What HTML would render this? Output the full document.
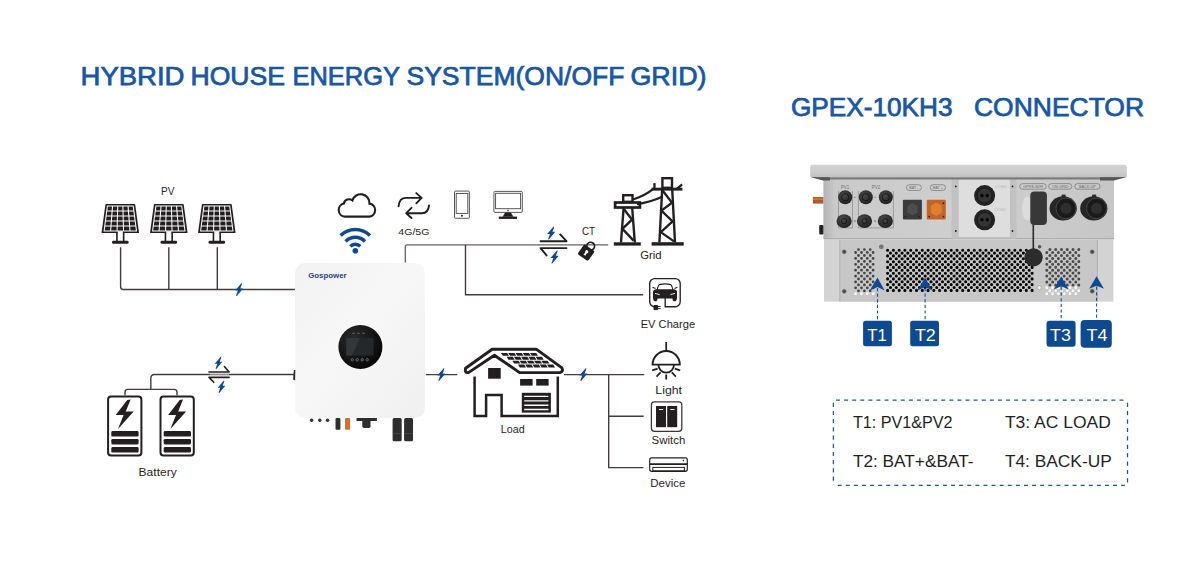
<!DOCTYPE html>
<html><head><meta charset="utf-8">
<style>
html,body{margin:0;padding:0;background:#fff;width:1200px;height:572px;overflow:hidden}
svg{display:block;font-family:"Liberation Sans",sans-serif}
</style></head>
<body>
<svg width="1200" height="572" viewBox="0 0 1200 572">
<!-- titles -->
<g font-size="25.3" fill="#1857a4" stroke="#1857a4" stroke-width="0.75"><text x="80.5" y="84.8" textLength="104.0" lengthAdjust="spacingAndGlyphs">HYBRID</text><text x="190.5" y="84.8" textLength="94.5" lengthAdjust="spacingAndGlyphs">HOUSE</text><text x="292.5" y="84.8" textLength="107.5" lengthAdjust="spacingAndGlyphs">ENERGY</text><text x="406.5" y="84.8" textLength="218.0" lengthAdjust="spacingAndGlyphs">SYSTEM(ON/OFF</text><text x="630.5" y="84.8" textLength="76.0" lengthAdjust="spacingAndGlyphs">GRID)</text></g>
<text x="791" y="116" font-size="25" fill="#1857a4" stroke="#1857a4" stroke-width="0.75" textLength="161.5" lengthAdjust="spacingAndGlyphs">GPEX-10KH3</text>
<text x="974" y="116" font-size="25" fill="#1857a4" stroke="#1857a4" stroke-width="0.75" textLength="170" lengthAdjust="spacingAndGlyphs">CONNECTOR</text>

<!-- wires -->
<g fill="none" stroke="#443c3a" stroke-width="1.4">
  <path d="M120.6 247.3 V286.8 Q120.6 289.5 123.3 289.5 H296"/>
  <path d="M168.8 247.3 V289.5 M217.3 247.3 V289.5"/>
  <path d="M296 374.5 H154.6 Q150.8 374.5 150.8 378.3 V389.4 M125 395.3 V392.2 Q125 389.4 127.8 389.4 H174.2 Q177 389.4 177 392.2 V395.3"/>
  <path d="M405.3 262.5 V246.9 Q405.3 244.9 407.3 244.9 H608.2" stroke="#6a6361" stroke-width="1.35"/>
  <path d="M465.5 244.9 V294.8 H643.2"/>
  <path d="M425.8 374.6 H457.3 M564 374.6 H644.3 M608.7 374.6 V467.6 H643.4 M608.7 416.2 H643.6"/>
</g>



<!-- inverter -->
<defs>
  <linearGradient id="invg" x1="0" y1="0" x2="1" y2="1">
    <stop offset="0" stop-color="#f3f2f2"/>
    <stop offset="0.45" stop-color="#f8f7f7"/>
    <stop offset="1" stop-color="#f1f0f0"/>
  </linearGradient>
  <radialGradient id="dispg" cx="0.35" cy="0.3" r="0.8">
    <stop offset="0" stop-color="#2a2a2a"/>
    <stop offset="1" stop-color="#050505"/>
  </radialGradient>
</defs>
<rect x="295" y="263" width="130" height="155" rx="10" fill="url(#invg)"/>
<path d="M293.9,369.9 H295.3 L295.1,380.6 L293.1,379.6 Z" fill="#2a2626"/>
<text x="308.2" y="278.2" font-size="8" font-weight="bold" fill="#2b428c" textLength="38.4" lengthAdjust="spacingAndGlyphs">Gospower</text>
<circle cx="360.4" cy="347" r="22" fill="url(#dispg)"/>
<rect x="346.3" y="338.1" width="27.2" height="17.3" fill="#25282b"/>
<path d="M346.3,338.1 H360 L352,355.4 H346.3 Z" fill="#33363a"/>
<g fill="none" stroke="#9a9a9a" stroke-width="0.6">
  <circle cx="352.3" cy="359.8" r="1.2"/><circle cx="357.2" cy="359.8" r="1.2"/>
  <circle cx="362.2" cy="359.8" r="1.2"/><circle cx="367.2" cy="359.8" r="1.2"/>
</g>
<g fill="#888"><rect x="352.5" y="332.8" width="2" height="0.8"/><rect x="357.5" y="332.8" width="2" height="0.8"/><rect x="362.5" y="332.8" width="2" height="0.8"/></g>
<g fill="#2e2e2e">
  <circle cx="311.6" cy="420.2" r="1.7"/><circle cx="319.8" cy="420.2" r="1.7"/><circle cx="327.6" cy="420.2" r="1.7"/>
  <rect x="335.5" y="418" width="4.9" height="11.7" rx="1"/>
  <rect x="356.5" y="418" width="20.4" height="3"/>
  <rect x="362.3" y="418" width="8.2" height="10" rx="1.8"/>
  <rect x="392.6" y="418" width="9.1" height="23.2" rx="1.5"/>
  <rect x="404.1" y="418" width="8.9" height="23.2" rx="1.5"/>
</g>
<rect x="345" y="418" width="5.1" height="11.7" rx="1" fill="#d4702f"/>
<path d="M392.6,433.5 H401.7 M404.1,433.5 H413" stroke="#555" stroke-width="0.6"/>

<!-- PV panels -->
<g transform="translate(120.3 204.0)">
<path d="M-14.9,0.4 Q-14.9,0 -14.4,0 H14.4 Q14.9,0 14.9,0.4 L18.7,28.4 Q18.7,28.9 18.2,28.9 H-18.2 Q-18.7,28.9 -18.7,28.4 Z" fill="#231f20"/>
<path d="M-12.9,1.9 H12.9 L16.2,27.0 H-16.2 Z M-13.56,6.92 H13.56 M-14.22,11.94 H14.22 M-14.88,16.96 H14.88 M-15.54,21.98 H15.54 M-7.74,1.9 L-9.72,27.0 M-2.58,1.9 L-3.24,27.0 M2.58,1.9 L3.24,27.0 M7.74,1.9 L9.72,27.0" fill="none" stroke="#fff" stroke-width="1.05"/>
<rect x="-2.6" y="27.2" width="5.2" height="10" fill="#fff"/><path d="M-3.35,28.2 V37.4 M3.35,28.2 V37.4" stroke="#231f20" stroke-width="1.6"/>
<rect x="-8.3" y="36.699999999999996" width="16.6" height="3.1" rx="1.4" fill="#231f20"/>
</g>
<g transform="translate(168.8 204.0)">
<path d="M-14.9,0.4 Q-14.9,0 -14.4,0 H14.4 Q14.9,0 14.9,0.4 L18.7,28.4 Q18.7,28.9 18.2,28.9 H-18.2 Q-18.7,28.9 -18.7,28.4 Z" fill="#231f20"/>
<path d="M-12.9,1.9 H12.9 L16.2,27.0 H-16.2 Z M-13.56,6.92 H13.56 M-14.22,11.94 H14.22 M-14.88,16.96 H14.88 M-15.54,21.98 H15.54 M-7.74,1.9 L-9.72,27.0 M-2.58,1.9 L-3.24,27.0 M2.58,1.9 L3.24,27.0 M7.74,1.9 L9.72,27.0" fill="none" stroke="#fff" stroke-width="1.05"/>
<rect x="-2.6" y="27.2" width="5.2" height="10" fill="#fff"/><path d="M-3.35,28.2 V37.4 M3.35,28.2 V37.4" stroke="#231f20" stroke-width="1.6"/>
<rect x="-8.3" y="36.699999999999996" width="16.6" height="3.1" rx="1.4" fill="#231f20"/>
</g>
<g transform="translate(216.8 204.0)">
<path d="M-14.9,0.4 Q-14.9,0 -14.4,0 H14.4 Q14.9,0 14.9,0.4 L18.7,28.4 Q18.7,28.9 18.2,28.9 H-18.2 Q-18.7,28.9 -18.7,28.4 Z" fill="#231f20"/>
<path d="M-12.9,1.9 H12.9 L16.2,27.0 H-16.2 Z M-13.56,6.92 H13.56 M-14.22,11.94 H14.22 M-14.88,16.96 H14.88 M-15.54,21.98 H15.54 M-7.74,1.9 L-9.72,27.0 M-2.58,1.9 L-3.24,27.0 M2.58,1.9 L3.24,27.0 M7.74,1.9 L9.72,27.0" fill="none" stroke="#fff" stroke-width="1.05"/>
<rect x="-2.6" y="27.2" width="5.2" height="10" fill="#fff"/><path d="M-3.35,28.2 V37.4 M3.35,28.2 V37.4" stroke="#231f20" stroke-width="1.6"/>
<rect x="-8.3" y="36.699999999999996" width="16.6" height="3.1" rx="1.4" fill="#231f20"/>
</g>
<!-- batteries -->
<g id="bat1">
  <rect x="108.1" y="396.4" width="33.3" height="59.1" rx="3" fill="#fff" stroke="#231f20" stroke-width="2"/>
  <path d="M127.3,400 L130.6,399.5 L125.8,411.5 L133.7,411.5 L118,429 L123.6,415 L115.7,415 Z" fill="#231f20"/>
  <rect x="111.3" y="431" width="27.3" height="5.6" rx="1.4" fill="#231f20"/>
  <rect x="111.3" y="438.9" width="27.3" height="5.6" rx="1.4" fill="#231f20"/>
  <rect x="111.3" y="447" width="27.3" height="5.6" rx="1.4" fill="#231f20"/>
</g>
<use href="#bat1" x="52.4"/>
<!-- bolts on wires -->
<g fill="#0f4894">
  <path transform="translate(239.1 289.6)" d="M2.3,-6.4 L3.1,-6.1 L1.2,-1.2 L4,-1.2 L-2.3,6.4 L-3.1,6.1 L-1.2,0.9 L-4,0.9 Z"/>
  <path transform="translate(441.4 374.6)" d="M2.3,-6.4 L3.1,-6.1 L1.2,-1.2 L4,-1.2 L-2.3,6.4 L-3.1,6.1 L-1.2,0.9 L-4,0.9 Z"/>
  <path transform="translate(583.4 374.6)" d="M2.3,-6.4 L3.1,-6.1 L1.2,-1.2 L4,-1.2 L-2.3,6.4 L-3.1,6.1 L-1.2,0.9 L-4,0.9 Z"/>
  <path transform="translate(218.5 362.8) scale(0.95)" d="M2.3,-6.4 L3.1,-6.1 L1.2,-1.2 L4,-1.2 L-2.3,6.4 L-3.1,6.1 L-1.2,0.9 L-4,0.9 Z"/>
  <path transform="translate(221.5 386.8) scale(0.95)" d="M2.3,-6.4 L3.1,-6.1 L1.2,-1.2 L4,-1.2 L-2.3,6.4 L-3.1,6.1 L-1.2,0.9 L-4,0.9 Z"/>
  <path transform="translate(551.2 233) scale(1.02)" d="M2.3,-6.4 L3.1,-6.1 L1.2,-1.2 L4,-1.2 L-2.3,6.4 L-3.1,6.1 L-1.2,0.9 L-4,0.9 Z"/>
  <path transform="translate(554.6 257) scale(1.02)" d="M2.3,-6.4 L3.1,-6.1 L1.2,-1.2 L4,-1.2 L-2.3,6.4 L-3.1,6.1 L-1.2,0.9 L-4,0.9 Z"/>
</g>
<!-- bidirectional arrows -->
<rect x="210" y="373.3" width="18.6" height="2.7" fill="#dad7d6"/><path d="M210,374.6 H228.6" stroke="#8f8a89" stroke-width="1"/>
<g fill="none" stroke="#231f20" stroke-width="1.6" stroke-linecap="round" stroke-linejoin="round">
  <path d="M209,372 H229.1 L224.4,366.5 M229.1,377.4 H209 L213.8,382.3"/>
  <path d="M540.5,241.2 H566.5 L560.2,234.4 M566.5,248.1 H540.5 L546.6,255.4" stroke-width="1.9"/>
</g>


<!-- comm icons -->
<path d="M344.8,216.6 A6.6,6.6 0 0 1 343.8,203.6 A5.4,5.4 0 0 1 352.4,200.4 A8.7,8.7 0 0 1 369.4,203.6 A6.55,6.55 0 0 1 369.4,216.6 Z" fill="none" stroke="#231f20" stroke-width="2.1"/>
<g fill="none" stroke="#0f4894" stroke-width="3.5">
  <path d="M340.6,235.6 A21,21 0 0 1 370,235.6"/>
  <path d="M345.6,241.4 A13.6,13.6 0 0 1 365,241.4"/>
  <path d="M350.3,246.4 A7,7 0 0 1 360.3,246.4"/>
</g>
<circle cx="355.3" cy="250.8" r="2.8" fill="#0f4894"/>
<g fill="none" stroke="#231f20" stroke-width="1.9" stroke-linecap="round" stroke-linejoin="round">
  <path d="M398.6,206.2 C399,201 401.5,197.9 406,197.9 H421.6 M416.3,193.1 L421.6,197.9 L416.3,203.3"/>
  <path d="M429,205.4 C428.6,210.4 426.3,213.2 422,213.2 H406.2 M411.5,207.8 L406.2,213.2 L411.5,218"/>
</g>
<g fill="none" stroke="#4a4544" stroke-width="0.9">
  <rect x="454.5" y="191.1" width="14.9" height="27.2" rx="0.8"/>
  <rect x="456.2" y="193.5" width="11.6" height="19.9"/>
  <rect x="493.9" y="191.4" width="28.4" height="21" rx="1.2"/>
  <rect x="495.6" y="193.3" width="25" height="15.4"/>
</g>
<circle cx="461.9" cy="215.8" r="1" fill="#231f20"/>
<circle cx="508" cy="210.5" r="0.8" fill="#231f20"/>
<path d="M505.2,212.5 H510.8 L513.4,216.8 H502.6 Z" fill="#231f20"/>
<rect x="498.8" y="216.6" width="18.2" height="2.3" fill="#231f20"/>

<!-- lock -->
<g transform="translate(586.6 252) rotate(35) scale(1.14)">
  <circle cx="0" cy="-6.2" r="3.4" fill="none" stroke="#231f20" stroke-width="1.5"/>
  <rect x="-5.6" y="-4.6" width="11.2" height="10.6" rx="1.5" fill="#231f20"/>
  <circle cx="0" cy="-0.3" r="1.4" fill="#fff"/>
  <path d="M-0.6,0 L-1,3.4 H1 L0.6,0 Z" fill="#fff"/>
</g>

<!-- towers -->
<g fill="none" stroke="#231f20" stroke-width="2.4" stroke-linejoin="miter">
  <rect x="623.2" y="195.2" width="9.3" height="6.6"/>
  <rect x="615.1" y="202.5" width="24.8" height="5" stroke-width="2.7"/>
  <path d="M623.6,208 L621,242.5 M632.2,208 L634.8,242.5"/>
  <path d="M623.4,208.6 L632,219.6 L622.4,228.8 L633.6,240.6"/>
  <rect x="662.4" y="178.2" width="9.6" height="9.6"/>
  <path d="M662.2,189 L659.4,242.5 M672.2,189 L675,242.5"/>
  <path d="M662.4,190.2 L672,202.8 L661.4,210.6 L672.6,221.4 L660.8,232.2 L674,241.4" stroke-width="2.3"/>
  <path d="M633,199.6 Q646,195 653.6,188.6 M637,204.2 Q651,202 661.6,197" stroke-width="2.1"/>
</g>
<g fill="#231f20">
  <rect x="651.6" y="187.7" width="30.8" height="2.9"/>
  <rect x="653.3" y="183.1" width="2.3" height="5.5"/>
  <path d="M675.2,188.8 L681.4,183.4 L682.8,185.2 L677.4,190.2 Z"/>
  <rect x="613.8" y="242.3" width="27" height="3.3"/>
  <rect x="651.6" y="242.2" width="32.1" height="3.4"/>
</g>
<!-- EV charger -->
<g>
  <path d="M655.4,306.7 H654.7 A5,5 0 0 1 649.7,301.7 V283.6 A5,5 0 0 1 654.7,278.6 H675.2 A5,5 0 0 1 680.2,283.6 V301.7 A5,5 0 0 1 675.2,306.7 H665.2 V297" fill="none" stroke="#231f20" stroke-width="1.35"/>
  <path d="M657.2,289.8 Q658.2,284.6 660,284.4 Q665,283.3 670,284.4 Q671.8,284.6 672.8,289.8" fill="none" stroke="#231f20" stroke-width="1.1"/>
  <path d="M653,291.6 Q653.4,289.4 656,289.2 H674 Q676.6,289.4 677,291.6 V297.8 Q676.8,301.2 675,301.2 H673.8 Q672.6,301.2 672.4,298.6 H657.6 Q657.4,301.2 656.2,301.2 H655 Q653.2,301.2 653,297.8 Z" fill="#231f20"/>
  <path d="M655.5,288.6 L652.5,287.2 M674.5,288.6 L677.5,287.2" stroke="#231f20" stroke-width="1.1"/>
  <path d="M655,293.4 L659.6,294.6 M675,293.4 L670.4,294.6" stroke="#fff" stroke-width="0.9"/>
  <path d="M654,305.5 H657.6 V309.6 H654 Z M657.6,306.5 H660.6 M657.6,308.6 H660.6" fill="#231f20" stroke="#231f20" stroke-width="1"/>
</g>

<!-- house -->
<g>
  <path d="M465.6,368.2 L492.2,349.2 H536.2 L561.6,367.6 Q564,371.4 559.8,372.6 H519.6 L494.4,355.2 L468.8,372.4 Q464.4,373.4 465.6,368.2 Z" fill="#fff" stroke="#231f20" stroke-width="2.9" stroke-linejoin="round"/>
  <path fill="#231f20" d="M501.00,352.90 h6.2 l1.8,2.9 h-6.2 Z M508.25,352.90 h6.2 l1.8,2.9 h-6.2 Z M515.50,352.90 h6.2 l1.8,2.9 h-6.2 Z M522.75,352.90 h6.2 l1.8,2.9 h-6.2 Z M530.00,352.90 h6.2 l1.8,2.9 h-6.2 Z M506.67,356.80 h6.2 l1.8,2.9 h-6.2 Z M513.92,356.80 h6.2 l1.8,2.9 h-6.2 Z M521.17,356.80 h6.2 l1.8,2.9 h-6.2 Z M528.42,356.80 h6.2 l1.8,2.9 h-6.2 Z M535.67,356.80 h6.2 l1.8,2.9 h-6.2 Z M512.34,360.70 h6.2 l1.8,2.9 h-6.2 Z M519.59,360.70 h6.2 l1.8,2.9 h-6.2 Z M526.84,360.70 h6.2 l1.8,2.9 h-6.2 Z M534.09,360.70 h6.2 l1.8,2.9 h-6.2 Z M541.34,360.70 h6.2 l1.8,2.9 h-6.2 Z M518.01,364.60 h6.2 l1.8,2.9 h-6.2 Z M525.26,364.60 h6.2 l1.8,2.9 h-6.2 Z M532.51,364.60 h6.2 l1.8,2.9 h-6.2 Z M539.76,364.60 h6.2 l1.8,2.9 h-6.2 Z M547.01,364.60 h6.2 l1.8,2.9 h-6.2 Z"/>
  <path d="M474.6,376.6 V415.9 H486.1 V395 H501.6 V415.9 H557.8 V376.6" fill="none" stroke="#231f20" stroke-width="2.5"/>
  <rect x="488.1" y="368" width="12.6" height="10.7" fill="#231f20"/>
  <rect x="520.1" y="379" width="12.5" height="6.6" fill="#231f20"/>
  <rect x="536.2" y="379" width="12.4" height="6.6" fill="#231f20"/>
  <rect x="521.8" y="392.8" width="29.1" height="19.8" fill="#231f20"/>
  <path d="M524.2,396.4 H548.4 M524.2,400.8 H548.4 M524.2,405.2 H548.4 M524.2,409.5 H548.4" stroke="#fff" stroke-width="1.35"/>
</g>

<!-- light -->
<g fill="none" stroke="#231f20" stroke-width="1.75">
  <path d="M666.2,342 V350.8"/>
  <path d="M652.6,364.6 A13.6,13.6 0 0 1 679.8,364.6 Z" stroke-width="1.9"/>
  <path d="M658.4,364.8 A7.8,7.8 0 0 0 674,364.8"/>
  <path d="M652.2,370.4 L657.6,368.6 M656.5,376.6 L660.6,372.4 M666.2,374.6 V379.5 M675.9,376.6 L671.8,372.4 M680.2,370.4 L674.8,368.6"/>
</g>

<!-- switch -->
<rect x="651.4" y="401.9" width="30.4" height="29.4" rx="3" fill="none" stroke="#3a3433" stroke-width="1.25"/>
<rect x="656" y="406" width="10" height="21.2" fill="#231f20"/>
<rect x="667.2" y="406" width="10" height="21.2" fill="#231f20"/>
<path d="M659,409.5 H663.3 M670.2,409.5 H674.5" stroke="#fff" stroke-width="0.9"/>

<!-- device -->
<g fill="none" stroke="#231f20">
  <rect x="649.7" y="457.9" width="37.6" height="13.4" rx="2" stroke-width="1.15"/>
  <path d="M649.8,464.1 H687.3" stroke-width="1.8"/>
  <rect x="652.8" y="467.4" width="31.6" height="3.4" stroke-width="1"/>
</g>
<circle cx="683.4" cy="460.6" r="0.8" fill="#231f20"/>

<!-- labels -->
<g font-size="10.2" fill="#2a2522">
  <text x="161" y="194.6" textLength="13.4" lengthAdjust="spacingAndGlyphs">PV</text>
  <text x="138.6" y="475.8" textLength="38.1" lengthAdjust="spacingAndGlyphs">Battery</text>
  <text x="398.3" y="235" font-size="9.3" textLength="31.1" lengthAdjust="spacingAndGlyphs">4G/5G</text>
  <text x="582" y="234.9" textLength="13.1" lengthAdjust="spacingAndGlyphs">CT</text>
  <text x="640.2" y="258.6" textLength="21.4" lengthAdjust="spacingAndGlyphs">Grid</text>
  <text x="640.7" y="327.9" textLength="54.4" lengthAdjust="spacingAndGlyphs">EV Charge</text>
  <text x="500.8" y="432.5" textLength="23.8" lengthAdjust="spacingAndGlyphs">Load</text>
  <text x="655.3" y="393.9" textLength="26.7" lengthAdjust="spacingAndGlyphs">Light</text>
  <text x="651.6" y="444" textLength="33.7" lengthAdjust="spacingAndGlyphs">Switch</text>
  <text x="650.3" y="486.9" textLength="35" lengthAdjust="spacingAndGlyphs">Device</text>
</g>


<!-- product -->
<defs>
  <linearGradient id="lidg" x1="0" y1="0" x2="0" y2="1">
    <stop offset="0" stop-color="#d4d4d4"/><stop offset="0.6" stop-color="#cccccc"/><stop offset="1" stop-color="#c0c0c0"/>
  </linearGradient>
  <linearGradient id="bodyg" x1="0" y1="0" x2="1" y2="0">
    <stop offset="0" stop-color="#b4b4b4"/><stop offset="0.04" stop-color="#cacaca"/><stop offset="0.5" stop-color="#cfcfcf"/><stop offset="1" stop-color="#c6c6c6"/>
  </linearGradient>
  <radialGradient id="conng" cx="0.4" cy="0.35" r="0.7">
    <stop offset="0" stop-color="#4a4a4a"/><stop offset="1" stop-color="#1e1e1e"/>
  </radialGradient>
</defs>
<!-- lower body -->
<rect x="824" y="238" width="289.4" height="63.6" fill="#d3d3d3"/>
<rect x="839.8" y="240" width="257.6" height="61.6" fill="#c7c7c7"/>
<path d="M839.8,240 V301.6 M1097.4,240 V301.6" stroke="#a8a8a8" stroke-width="0.8"/>
<path d="M887.6 250.2h0M893.4 250.2h0M899.2 250.2h0M904.9 250.2h0M910.7 250.2h0M916.5 250.2h0M922.3 250.2h0M928.1 250.2h0M933.8 250.2h0M939.6 250.2h0M945.4 250.2h0M951.2 250.2h0M957.0 250.2h0M962.7 250.2h0M968.5 250.2h0M974.3 250.2h0M980.1 250.2h0M985.9 250.2h0M991.6 250.2h0M997.4 250.2h0M1003.2 250.2h0M1009.0 250.2h0M1014.8 250.2h0M1020.5 250.2h0M1026.3 250.2h0M1032.1 250.2h0M890.5 253.1h0M896.3 253.1h0M902.1 253.1h0M907.8 253.1h0M913.6 253.1h0M919.4 253.1h0M925.2 253.1h0M931.0 253.1h0M936.7 253.1h0M942.5 253.1h0M948.3 253.1h0M954.1 253.1h0M959.9 253.1h0M965.6 253.1h0M971.4 253.1h0M977.2 253.1h0M983.0 253.1h0M988.8 253.1h0M994.5 253.1h0M1000.3 253.1h0M1006.1 253.1h0M1011.9 253.1h0M1017.7 253.1h0M1023.4 253.1h0M1029.2 253.1h0M887.6 255.9h0M893.4 255.9h0M899.2 255.9h0M904.9 255.9h0M910.7 255.9h0M916.5 255.9h0M922.3 255.9h0M928.1 255.9h0M933.8 255.9h0M939.6 255.9h0M945.4 255.9h0M951.2 255.9h0M957.0 255.9h0M962.7 255.9h0M968.5 255.9h0M974.3 255.9h0M980.1 255.9h0M985.9 255.9h0M991.6 255.9h0M997.4 255.9h0M1003.2 255.9h0M1009.0 255.9h0M1014.8 255.9h0M1020.5 255.9h0M1026.3 255.9h0M1032.1 255.9h0M890.5 258.8h0M896.3 258.8h0M902.1 258.8h0M907.8 258.8h0M913.6 258.8h0M919.4 258.8h0M925.2 258.8h0M931.0 258.8h0M936.7 258.8h0M942.5 258.8h0M948.3 258.8h0M954.1 258.8h0M959.9 258.8h0M965.6 258.8h0M971.4 258.8h0M977.2 258.8h0M983.0 258.8h0M988.8 258.8h0M994.5 258.8h0M1000.3 258.8h0M1006.1 258.8h0M1011.9 258.8h0M1017.7 258.8h0M1023.4 258.8h0M1029.2 258.8h0M887.6 261.7h0M893.4 261.7h0M899.2 261.7h0M904.9 261.7h0M910.7 261.7h0M916.5 261.7h0M922.3 261.7h0M928.1 261.7h0M933.8 261.7h0M939.6 261.7h0M945.4 261.7h0M951.2 261.7h0M957.0 261.7h0M962.7 261.7h0M968.5 261.7h0M974.3 261.7h0M980.1 261.7h0M985.9 261.7h0M991.6 261.7h0M997.4 261.7h0M1003.2 261.7h0M1009.0 261.7h0M1014.8 261.7h0M1020.5 261.7h0M1026.3 261.7h0M1032.1 261.7h0M890.5 264.6h0M896.3 264.6h0M902.1 264.6h0M907.8 264.6h0M913.6 264.6h0M919.4 264.6h0M925.2 264.6h0M931.0 264.6h0M936.7 264.6h0M942.5 264.6h0M948.3 264.6h0M954.1 264.6h0M959.9 264.6h0M965.6 264.6h0M971.4 264.6h0M977.2 264.6h0M983.0 264.6h0M988.8 264.6h0M994.5 264.6h0M1000.3 264.6h0M1006.1 264.6h0M1011.9 264.6h0M1017.7 264.6h0M1023.4 264.6h0M1029.2 264.6h0M887.6 267.4h0M893.4 267.4h0M899.2 267.4h0M904.9 267.4h0M910.7 267.4h0M916.5 267.4h0M922.3 267.4h0M928.1 267.4h0M933.8 267.4h0M939.6 267.4h0M945.4 267.4h0M951.2 267.4h0M957.0 267.4h0M962.7 267.4h0M968.5 267.4h0M974.3 267.4h0M980.1 267.4h0M985.9 267.4h0M991.6 267.4h0M997.4 267.4h0M1003.2 267.4h0M1009.0 267.4h0M1014.8 267.4h0M1020.5 267.4h0M1026.3 267.4h0M1032.1 267.4h0M890.5 270.3h0M896.3 270.3h0M902.1 270.3h0M907.8 270.3h0M913.6 270.3h0M919.4 270.3h0M925.2 270.3h0M931.0 270.3h0M936.7 270.3h0M942.5 270.3h0M948.3 270.3h0M954.1 270.3h0M959.9 270.3h0M965.6 270.3h0M971.4 270.3h0M977.2 270.3h0M983.0 270.3h0M988.8 270.3h0M994.5 270.3h0M1000.3 270.3h0M1006.1 270.3h0M1011.9 270.3h0M1017.7 270.3h0M1023.4 270.3h0M1029.2 270.3h0M887.6 273.2h0M893.4 273.2h0M899.2 273.2h0M904.9 273.2h0M910.7 273.2h0M916.5 273.2h0M922.3 273.2h0M928.1 273.2h0M933.8 273.2h0M939.6 273.2h0M945.4 273.2h0M951.2 273.2h0M957.0 273.2h0M962.7 273.2h0M968.5 273.2h0M974.3 273.2h0M980.1 273.2h0M985.9 273.2h0M991.6 273.2h0M997.4 273.2h0M1003.2 273.2h0M1009.0 273.2h0M1014.8 273.2h0M1020.5 273.2h0M1026.3 273.2h0M1032.1 273.2h0M890.5 276.0h0M896.3 276.0h0M902.1 276.0h0M907.8 276.0h0M913.6 276.0h0M919.4 276.0h0M925.2 276.0h0M931.0 276.0h0M936.7 276.0h0M942.5 276.0h0M948.3 276.0h0M954.1 276.0h0M959.9 276.0h0M965.6 276.0h0M971.4 276.0h0M977.2 276.0h0M983.0 276.0h0M988.8 276.0h0M994.5 276.0h0M1000.3 276.0h0M1006.1 276.0h0M1011.9 276.0h0M1017.7 276.0h0M1023.4 276.0h0M1029.2 276.0h0M887.6 278.9h0M893.4 278.9h0M899.2 278.9h0M904.9 278.9h0M910.7 278.9h0M916.5 278.9h0M922.3 278.9h0M928.1 278.9h0M933.8 278.9h0M939.6 278.9h0M945.4 278.9h0M951.2 278.9h0M957.0 278.9h0M962.7 278.9h0M968.5 278.9h0M974.3 278.9h0M980.1 278.9h0M985.9 278.9h0M991.6 278.9h0M997.4 278.9h0M1003.2 278.9h0M1009.0 278.9h0M1014.8 278.9h0M1020.5 278.9h0M1026.3 278.9h0M1032.1 278.9h0M890.5 281.8h0M896.3 281.8h0M902.1 281.8h0M907.8 281.8h0M913.6 281.8h0M919.4 281.8h0M925.2 281.8h0M931.0 281.8h0M936.7 281.8h0M942.5 281.8h0M948.3 281.8h0M954.1 281.8h0M959.9 281.8h0M965.6 281.8h0M971.4 281.8h0M977.2 281.8h0M983.0 281.8h0M988.8 281.8h0M994.5 281.8h0M1000.3 281.8h0M1006.1 281.8h0M1011.9 281.8h0M1017.7 281.8h0M1023.4 281.8h0M1029.2 281.8h0M887.6 284.6h0M893.4 284.6h0M899.2 284.6h0M904.9 284.6h0M910.7 284.6h0M916.5 284.6h0M922.3 284.6h0M928.1 284.6h0M933.8 284.6h0M939.6 284.6h0M945.4 284.6h0M951.2 284.6h0M957.0 284.6h0M962.7 284.6h0M968.5 284.6h0M974.3 284.6h0M980.1 284.6h0M985.9 284.6h0M991.6 284.6h0M997.4 284.6h0M1003.2 284.6h0M1009.0 284.6h0M1014.8 284.6h0M1020.5 284.6h0M1026.3 284.6h0M1032.1 284.6h0M890.5 287.5h0M896.3 287.5h0M902.1 287.5h0M907.8 287.5h0M913.6 287.5h0M919.4 287.5h0M925.2 287.5h0M931.0 287.5h0M936.7 287.5h0M942.5 287.5h0M948.3 287.5h0M954.1 287.5h0M959.9 287.5h0M965.6 287.5h0M971.4 287.5h0M977.2 287.5h0M983.0 287.5h0M988.8 287.5h0M994.5 287.5h0M1000.3 287.5h0M1006.1 287.5h0M1011.9 287.5h0M1017.7 287.5h0M1023.4 287.5h0M1029.2 287.5h0M887.6 290.4h0M893.4 290.4h0M899.2 290.4h0M904.9 290.4h0M910.7 290.4h0M916.5 290.4h0M922.3 290.4h0M928.1 290.4h0M933.8 290.4h0M939.6 290.4h0M945.4 290.4h0M951.2 290.4h0M957.0 290.4h0M962.7 290.4h0M968.5 290.4h0M974.3 290.4h0M980.1 290.4h0M985.9 290.4h0M991.6 290.4h0M997.4 290.4h0M1003.2 290.4h0M1009.0 290.4h0M1014.8 290.4h0M1020.5 290.4h0M1026.3 290.4h0M1032.1 290.4h0" stroke="#050505" stroke-width="3.1" stroke-linecap="round"/>
<path d="M858.5 249.6h0M864.4 249.6h0M870.2 249.6h0M855.6 252.5h0M861.5 252.5h0M867.3 252.5h0M873.1 252.5h0M858.5 255.5h0M864.4 255.5h0M870.2 255.5h0M855.6 258.4h0M861.5 258.4h0M867.3 258.4h0M873.1 258.4h0M858.5 261.4h0M864.4 261.4h0M870.2 261.4h0M855.6 264.3h0M861.5 264.3h0M867.3 264.3h0M873.1 264.3h0M858.5 267.2h0M864.4 267.2h0M870.2 267.2h0M855.6 270.2h0M861.5 270.2h0M867.3 270.2h0M873.1 270.2h0M858.5 273.1h0M864.4 273.1h0M870.2 273.1h0M855.6 276.1h0M861.5 276.1h0M867.3 276.1h0M873.1 276.1h0M858.5 279.0h0M864.4 279.0h0M870.2 279.0h0M855.6 281.9h0M861.5 281.9h0M867.3 281.9h0M873.1 281.9h0M858.5 284.9h0M864.4 284.9h0M870.2 284.9h0M855.6 287.8h0M861.5 287.8h0M867.3 287.8h0M873.1 287.8h0M858.5 290.8h0M864.4 290.8h0M870.2 290.8h0" stroke="#454545" stroke-width="2.8" stroke-linecap="round"/>
<path d="M1049.9 249.6h0M1055.7 249.6h0M1061.5 249.6h0M1067.2 249.6h0M1073.0 249.6h0M1078.8 249.6h0M1046.8 252.5h0M1052.6 252.5h0M1058.4 252.5h0M1064.2 252.5h0M1070.0 252.5h0M1075.8 252.5h0M1049.9 255.5h0M1055.7 255.5h0M1061.5 255.5h0M1067.2 255.5h0M1073.0 255.5h0M1078.8 255.5h0M1046.8 258.4h0M1052.6 258.4h0M1058.4 258.4h0M1064.2 258.4h0M1070.0 258.4h0M1075.8 258.4h0M1049.9 261.4h0M1055.7 261.4h0M1061.5 261.4h0M1067.2 261.4h0M1073.0 261.4h0M1078.8 261.4h0M1046.8 264.3h0M1052.6 264.3h0M1058.4 264.3h0M1064.2 264.3h0M1070.0 264.3h0M1075.8 264.3h0M1049.9 267.2h0M1055.7 267.2h0M1061.5 267.2h0M1067.2 267.2h0M1073.0 267.2h0M1078.8 267.2h0M1046.8 270.2h0M1052.6 270.2h0M1058.4 270.2h0M1064.2 270.2h0M1070.0 270.2h0M1075.8 270.2h0M1049.9 273.1h0M1055.7 273.1h0M1061.5 273.1h0M1067.2 273.1h0M1073.0 273.1h0M1078.8 273.1h0M1046.8 276.1h0M1052.6 276.1h0M1058.4 276.1h0M1064.2 276.1h0M1070.0 276.1h0M1075.8 276.1h0M1049.9 279.0h0M1055.7 279.0h0M1061.5 279.0h0M1067.2 279.0h0M1073.0 279.0h0M1078.8 279.0h0M1046.8 281.9h0M1052.6 281.9h0M1058.4 281.9h0M1064.2 281.9h0M1070.0 281.9h0M1075.8 281.9h0M1049.9 284.9h0M1055.7 284.9h0M1061.5 284.9h0M1067.2 284.9h0M1073.0 284.9h0M1078.8 284.9h0" stroke="#4a4a4a" stroke-width="3" stroke-linecap="round"/>
<path d="M855.6 293.7h0M861.5 293.7h0M867.3 293.7h0M873.1 293.7h0M1046.8 287.8h0M1052.6 287.8h0M1058.4 287.8h0M1064.2 287.8h0M1070.0 287.8h0M1075.8 287.8h0M1049.9 290.8h0M1055.7 290.8h0M1061.5 290.8h0M1067.2 290.8h0M1073.0 290.8h0M1078.8 290.8h0M1046.8 293.7h0M1052.6 293.7h0M1058.4 293.7h0M1064.2 293.7h0M1070.0 293.7h0M1075.8 293.7h0" stroke="#f8f8f8" stroke-width="2.9" stroke-linecap="round"/>
<g fill="#4a4a4a" stroke="#8e8e8e" stroke-width="0.6"><circle cx="844.2" cy="251.8" r="2.1"/><circle cx="844.2" cy="291.3" r="2.1"/><circle cx="1092.2" cy="251.8" r="2.1"/><circle cx="1092.2" cy="291.2" r="2.1"/></g>
<circle cx="881.3" cy="246.8" r="2.4" fill="#777"/>
<circle cx="1039.6" cy="246.8" r="1.8" fill="#555"/>
<circle cx="1039.3" cy="287.8" r="2" fill="#f6f6f6" stroke="#888" stroke-width="0.5"/>
<!-- upper body -->
<rect x="823.4" y="178.6" width="290.6" height="60" fill="url(#bodyg)"/>
<path d="M823.4,238.6 H1114" stroke="#aaaaaa" stroke-width="1"/>
<rect x="812.9" y="197" width="10.4" height="6.6" fill="#b05a2b"/>
<rect x="813" y="198.2" width="10" height="1.6" fill="#d07a45"/>
<rect x="819.2" y="225" width="4.2" height="9.6" rx="1" fill="#222"/>
<!-- PV -->
<path d="M838.5,191 V227.9 H852.5 V191 M858.4,191 V227.9 H893.4 V191" fill="none" stroke="#8a8a8a" stroke-width="0.7"/>
<g fill="url(#conng)">
  <circle cx="845.2" cy="197.3" r="7"/><circle cx="865.8" cy="197.3" r="7"/><circle cx="885.8" cy="197.3" r="7"/>
  <ellipse cx="844.1" cy="221.1" rx="7.6" ry="6.8"/><ellipse cx="864.5" cy="221.1" rx="7.6" ry="6.8"/><ellipse cx="885.3" cy="221.1" rx="7.6" ry="6.8"/>
</g>
<g fill="none" stroke="#111" stroke-width="0.8">
  <circle cx="845.2" cy="197.3" r="3.6"/><circle cx="865.8" cy="197.3" r="3.6"/><circle cx="885.8" cy="197.3" r="3.6"/>
  <circle cx="844.1" cy="221.1" r="2.6"/><circle cx="864.5" cy="221.1" r="2.6"/><circle cx="885.3" cy="221.1" r="2.6"/>
</g>
<g font-size="4.6" fill="#777" text-anchor="middle"><text x="845" y="189">PV1</text><text x="876" y="189">PV2</text></g>
<!-- BAT -->
<rect x="902.9" y="199.7" width="19" height="19.7" rx="1" fill="#3b3b3b"/>
<path d="M912.4,203 L917.5,206 V212.5 L912.4,215.6 L907.3,212.5 V206 Z" fill="#4e4e4e"/>
<rect x="926.8" y="199.7" width="19" height="19.7" rx="1" fill="#c06529"/>
<path d="M936.3,202.5 L941.8,205.8 V212.8 L936.3,216 L930.8,212.8 V205.8 Z" fill="#e0802f"/>
<g fill="#222"><circle cx="905.4" cy="216.6" r="0.9"/><circle cx="919.4" cy="216.6" r="0.9"/><circle cx="929.2" cy="216.6" r="0.9"/><circle cx="943.4" cy="216.6" r="0.9"/><circle cx="943.4" cy="203.2" r="0.9"/></g>
<g fill="none" stroke="#666" stroke-width="0.6">
  <rect x="906.4" y="184.7" width="15" height="5.8" rx="2.9"/><rect x="930.3" y="184.7" width="15.2" height="5.8" rx="2.9"/>
  <rect x="1019.7" y="183.6" width="26.5" height="5.6" rx="2.8"/><rect x="1048.6" y="183.6" width="23.2" height="5.6" rx="2.8"/><rect x="1074.8" y="183.6" width="25.3" height="5.6" rx="2.8"/>
</g>
<g font-size="3.8" fill="#6a6a6a" text-anchor="middle">
  <text x="913.9" y="189.2">BAT -</text><text x="937.9" y="189.2">BAT +</text>
  <text x="1033" y="188">GPRS-WIFI</text><text x="1060.2" y="188">ON-GRID</text><text x="1087.4" y="188">BACK-UP</text>
</g>
<g stroke="#777" stroke-width="0.6"><path d="M853.8,197.3 h2.4 M873.8,197.3 h2.4 M853.8,221.1 h2.4 M854.9,219.9 v2.4 M873.8,221.1 h2.4 M875,219.9 v2.4"/></g>
<!-- COM -->
<rect x="951.6" y="179" width="64.9" height="59.6" fill="#c2c2c2"/>
<rect x="958.8" y="179.4" width="51.1" height="57.5" fill="#dedede"/>
<g fill="#1a1a1a"><circle cx="955.8" cy="186.4" r="0.9"/><circle cx="955.8" cy="231" r="0.9"/><circle cx="1012.5" cy="186.4" r="0.9"/><circle cx="1012.5" cy="231" r="0.9"/></g>
<circle cx="984.6" cy="195.6" r="10.5" fill="#232323"/><circle cx="984.6" cy="195.6" r="7.4" fill="#343434" stroke="#181818" stroke-width="0.8"/>
<circle cx="984.6" cy="219.8" r="10.5" fill="#232323"/><circle cx="984.6" cy="219.8" r="7.4" fill="#343434" stroke="#181818" stroke-width="0.8"/>
<g fill="#050505"><circle cx="981.9" cy="195.6" r="1.8"/><circle cx="987.3" cy="195.6" r="1.8"/><circle cx="981.9" cy="219.8" r="1.8"/><circle cx="987.3" cy="219.8" r="1.8"/></g>
<g font-size="4.2" fill="#b8b8b8" text-anchor="middle"><text x="1001" y="187.5">COM1</text><text x="1000" y="211">COM2</text></g>
<!-- dongle -->
<ellipse cx="1027" cy="208.5" rx="5" ry="12" fill="#dcdcdc"/>
<path d="M1033.3,224 V252" stroke="#2a2a2a" stroke-width="1.6"/>
<rect x="1030.3" y="191.6" width="16.6" height="33.3" rx="4" fill="#383838"/>
<circle cx="1033.6" cy="257.3" r="9.1" fill="#2c2c2c"/>
<!-- ac connectors -->
<g>
  <ellipse cx="1063.2" cy="208.4" rx="13.6" ry="12.2" fill="#262626"/>
  <ellipse cx="1066" cy="208.4" rx="10" ry="10.4" fill="#1a1a1a" stroke="#4a4a4a" stroke-width="0.9"/>
  <circle cx="1066" cy="208.4" r="5.6" fill="#2e2e2e"/>
  <rect x="1061.6" y="194.6" width="4" height="3.2" fill="#2a2a2a"/>
  <ellipse cx="1093.8" cy="208.4" rx="13.6" ry="12.2" fill="#262626"/>
  <ellipse cx="1096.6" cy="208.4" rx="10" ry="10.4" fill="#1a1a1a" stroke="#4a4a4a" stroke-width="0.9"/>
  <circle cx="1096.6" cy="208.4" r="5.6" fill="#2e2e2e"/>
  <rect x="1092.2" y="194.6" width="4" height="3.2" fill="#2a2a2a"/>
</g>
<!-- lid -->
<path d="M810.2,166.4 Q810.2,164.8 811.8,164.8 H1123.6 Q1126.8,164.8 1126.8,168 V175.8 Q1126.8,177.4 1125.2,177.4 H811.8 Q810.2,177.4 810.2,175.8 Z" fill="url(#lidg)"/>
<path d="M811,177.2 H1126 L1114,179.6 H823 Z" fill="#7a7a7a"/><path d="M1100,177.2 H1126 L1114,180.6 H1100 Z" fill="#555"/><path d="M811,177.2 H830 V180.4 H823 Z" fill="#555"/>
<!-- T markers -->
<g fill="#0e4a90">
  <path d="M877.5,277.5 L884.6,290.4 L877.5,287.1 L869.8,290.4 Z"/>
  <path d="M925.1,277.5 L932.2,290.4 L925.1,287.1 L917.4,290.4 Z"/>
  <path d="M1061.2,276.6 L1068.6,289.4 L1061.2,286.2 L1053.8,289.4 Z"/>
  <path d="M1096.6,276.2 L1104,288.8 L1096.6,285.8 L1089.2,288.8 Z"/>
  <rect x="863.1" y="320.8" width="28.8" height="25.4" rx="2.5"/>
  <rect x="910.2" y="320.8" width="28.8" height="25.4" rx="2.5"/>
  <rect x="1046.5" y="320.8" width="29.1" height="25.9" rx="3"/>
  <rect x="1080.6" y="319.9" width="31.2" height="27.8" rx="4"/>
</g>
<g stroke="#0e4a90" stroke-width="1.05" stroke-dasharray="3.2 2.4">
  <path d="M877.5,288 V320.8 M925.1,288 V320.8 M1061.2,287 V320.8 M1096.6,286.6 V318.6"/>
</g>
<g font-size="16.6" fill="#fff">
  <text x="867.2" y="340.5" textLength="19.6" lengthAdjust="spacingAndGlyphs">T1</text>
  <text x="914.9" y="340.5" textLength="20.8" lengthAdjust="spacingAndGlyphs">T2</text>
  <text x="1050" y="340.6" textLength="20.8" lengthAdjust="spacingAndGlyphs">T3</text>
  <text x="1086.6" y="340.6" textLength="20.9" lengthAdjust="spacingAndGlyphs">T4</text>
</g>

<!-- legend box -->
<g fill="none" stroke="#1d54a0" stroke-width="1.25">
  <path d="M836,400.2 H1127" stroke-dasharray="3.9 4.2"/>
  <path d="M833.4,402.7 V485" stroke-dasharray="4.2 4"/>
  <path d="M1127.5,482.5 V400" stroke-dasharray="4.2 4.2"/>
  <path d="M1125.1,485.3 H834" stroke-dasharray="3.9 4.2"/>
</g>
<g font-size="16.2" fill="#231f1e">
  <text x="852.9" y="428" textLength="99.6" lengthAdjust="spacingAndGlyphs">T1: PV1&amp;PV2</text>
  <text x="1004.9" y="428" textLength="105.9" lengthAdjust="spacingAndGlyphs">T3: AC LOAD</text>
  <text x="852.9" y="466.8" textLength="120.6" lengthAdjust="spacingAndGlyphs">T2: BAT+&amp;BAT-</text>
  <text x="1004.9" y="466.8" textLength="106.9" lengthAdjust="spacingAndGlyphs">T4: BACK-UP</text>
</g>
</svg>
</body></html>
